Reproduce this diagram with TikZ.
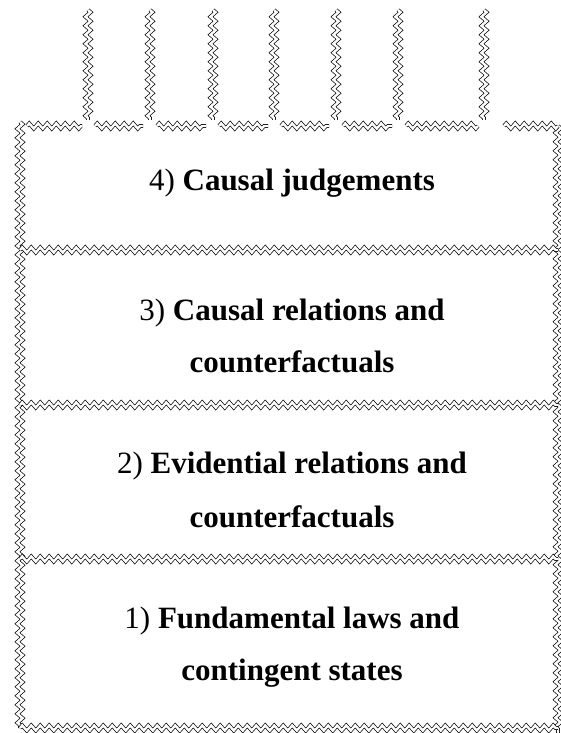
\documentclass[tikz,border=0pt]{standalone}
\usepackage{fontspec}
\setmainfont{Liberation Serif}
\usetikzlibrary{decorations.pathmorphing}
\begin{document}
\begin{tikzpicture}[x=1pt,y=-1pt,
  wavy/.style={decorate,
    decoration={zigzag,segment length=9pt,amplitude=2.6pt},
    draw=black, line width=0.7pt, double=white, double distance=2.4pt},
  lbl/.style={anchor=base, inner sep=0pt, font=\fontsize{31}{40}\selectfont}]
\useasboundingbox (0,0) rectangle (561,733);
\clip (0,0) rectangle (561,733);

% frame corners and layer boundaries
\coordinate (tl) at (20,126);
\coordinate (tr) at (558,126);
\coordinate (bl) at (20,728);
\coordinate (br) at (558,728);

% outer sides
\draw[wavy] (20,122) -- (bl);
\draw[wavy] (tr) -- (558,733);

% layer dividers and bottom edge
\foreach \y in {250,405,559,728}
  \draw[wavy] (20,\y) -- (558,\y);

% top edge, broken where the strands come in
\foreach \a/\b in {27/82,95/143,157/206,219/268,281/329,343/392,406/478,504/558}
  \draw[wavy] (\a,126) -- (\b,126);

% strands rising from the top layer
\foreach \x in {88,150,213,274,336,398,484}
  \draw[wavy] (\x,10) -- (\x,120);

% layer labels
\node[lbl] (l4)  at (292,190) {4) \textbf{Causal judgements}};
\node[lbl] (l3a) at (292,320) {3) \textbf{Causal relations and}};
\node[lbl] (l3b) at (292,372) {\textbf{counterfactuals}};
\node[lbl] (l2a) at (292,473) {2) \textbf{Evidential relations and}};
\node[lbl] (l2b) at (292,527) {\textbf{counterfactuals}};
\node[lbl] (l1a) at (292,628) {1) \textbf{Fundamental laws and}};
\node[lbl] (l1b) at (292,680) {\textbf{contingent states}};
\end{tikzpicture}
\end{document}
